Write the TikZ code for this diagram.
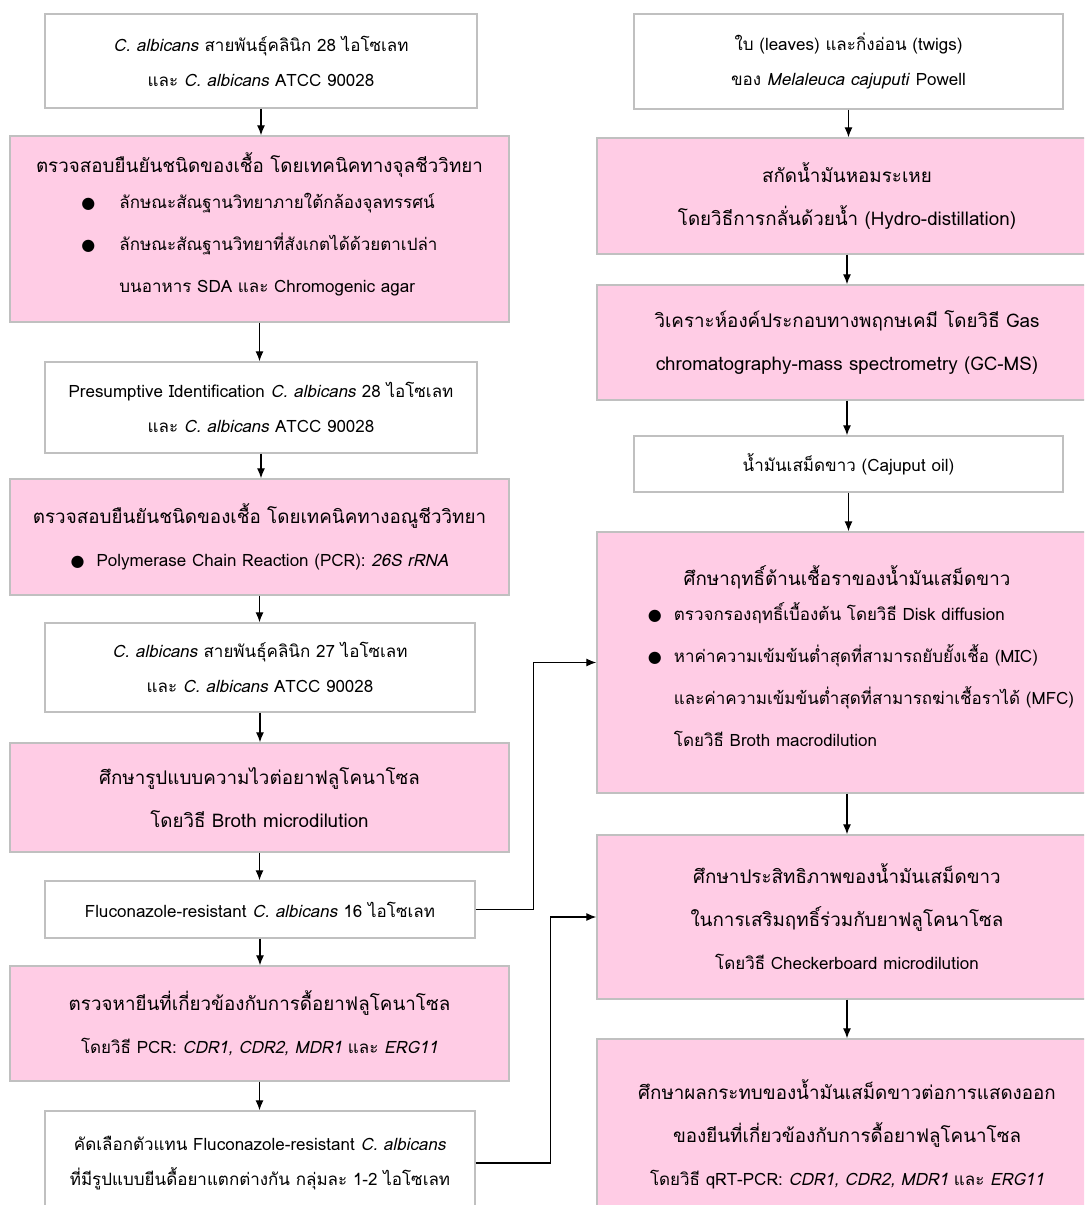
\documentclass[tikz,border=0pt]{standalone}
\usepackage{fontspec}
\setmainfont[Script=Thai,ItalicFont={Loma Oblique}]{Loma}
\newfontfamily\symfont{DejaVu Sans}
\usetikzlibrary{arrows.meta}

\definecolor{boxpink}{RGB}{255,204,229}
\definecolor{boxline}{RGB}{192,192,192}
\newcommand{\blt}{{\symfont\footnotesize ●}}
\newcommand{\ca}{\textit{C. albicans}}
\newcommand{\sm}{\fontsize{8.5}{21}\selectfont}

\tikzset{
  base/.style={draw=boxline, line width=0.7pt, align=center, inner sep=0pt},
  wbox/.style={base, fill=white, font=\fontsize{8.5}{17.5}\selectfont},
  pbox/.style={base, fill=boxpink, font=\fontsize{9.4}{21.5}\selectfont},
  arr/.style={-{Latex[length=5pt,width=4pt]}, line width=0.6pt}
}

\begin{document}
\begin{tikzpicture}[x=0.5pt,y=-0.5pt]
    \clip (0,0) rectangle (1084,1205);
    % left column
    \node[wbox, minimum width=216pt, minimum height=47pt] (cal) at (261,61)
        {\ca{} สายพันธุ์คลินิก 28 ไอโซเลท\\ และ \ca{} ATCC 90028};
    \node[pbox, minimum width=249.5pt, minimum height=93pt] (micro) at (259.5,229)
        {ตรวจสอบยืนยันชนิดของเชื้อ โดยเทคนิคทางจุลชีววิทยา\\
         {\sm\begin{tabular}{@{}l@{\hspace{12pt}}l@{}}
           \blt & ลักษณะสัณฐานวิทยาภายใต้กล้องจุลทรรศน์\\
           \blt & ลักษณะสัณฐานวิทยาที่สังเกตได้ด้วยตาเปล่า\\
                & บนอาหาร SDA และ Chromogenic agar
         \end{tabular}}};
    \node[wbox, minimum width=216pt, minimum height=45.5pt] (presum) at (261,407.5)
        {Presumptive Identification \ca{} 28 ไอโซเลท\\ และ \ca{} ATCC 90028};
    \node[pbox, minimum width=249.5pt, minimum height=58pt] (molec) at (259.5,537)
        {ตรวจสอบยืนยันชนิดของเชื้อ โดยเทคนิคทางอณูชีววิทยา\\
         {\sm\blt\hspace{6pt}Polymerase Chain Reaction (PCR): \textit{26S rRNA}}};
    \node[wbox, minimum width=215pt, minimum height=44.5pt] (clin) at (260,667.5)
        {\ca{} สายพันธุ์คลินิก 27 ไอโซเลท\\ และ \ca{} ATCC 90028};
    \node[pbox, minimum width=249.5pt, minimum height=54.5pt] (suscep) at (259.5,797.5)
        {ศึกษารูปแบบความไวต่อยาฟลูโคนาโซล\\ โดยวิธี Broth microdilution};
    \node[wbox, minimum width=215pt, minimum height=28.5pt] (res) at (260,909.5)
        {Fluconazole-resistant \ca{} 16 ไอโซเลท};
    \node[pbox, minimum width=249.5pt, minimum height=57.5pt] (gene) at (259.5,1023.5)
        {ตรวจหายีนที่เกี่ยวข้องกับการดื้อยาฟลูโคนาโซล\\
         {\sm โดยวิธี PCR: \textit{CDR1, CDR2, MDR1} และ \textit{ERG11}}};
    \node[wbox, minimum width=215pt, minimum height=52pt] (sel) at (260,1163)
        {คัดเลือกตัวแทน Fluconazole-resistant \ca\\ ที่มีรูปแบบยีนดื้อยาแตกต่างกัน กลุ่มละ 1-2 ไอโซเลท};
    % right column
    \node[wbox, minimum width=214.5pt, minimum height=47.5pt] (plant) at (848.5,61.5)
        {ใบ (leaves) และกิ่งอ่อน (twigs)\\ ของ \textit{Melaleuca cajuputi} Powell};
    \node[pbox, minimum width=250pt, minimum height=58pt] (extr) at (847,196)
        {สกัดน้ำมันหอมระเหย\\ โดยวิธีการกลั่นด้วยน้ำ (Hydro-distillation)};
    \node[pbox, minimum width=250pt, minimum height=57.5pt] (gcms) at (847,342.5)
        {วิเคราะห์องค์ประกอบทางพฤกษเคมี โดยวิธี Gas\\ chromatography-mass spectrometry (GC-MS)};
    \node[wbox, minimum width=214.5pt, minimum height=28pt] (oil) at (848.5,464)
        {น้ำมันเสม็ดขาว (Cajuput oil)};
    \node[pbox, minimum width=250pt, minimum height=130.5pt] (anti) at (847,662.5)
        {ศึกษาฤทธิ์ต้านเชื้อราของน้ำมันเสม็ดขาว\\
         {\sm\hspace{14pt}\begin{tabular}{@{}l@{\hspace{6pt}}l@{}}
           \blt & ตรวจกรองฤทธิ์เบื้องต้น โดยวิธี Disk diffusion\\
           \blt & หาค่าความเข้มข้นต่ำสุดที่สามารถยับยั้งเชื้อ (MIC)\\
                & และค่าความเข้มข้นต่ำสุดที่สามารถฆ่าเชื้อราได้ (MFC)\\
                & โดยวิธี Broth macrodilution
         \end{tabular}}};
    \node[pbox, minimum width=250pt, minimum height=82pt] (syn) at (847,917)
        {ศึกษาประสิทธิภาพของน้ำมันเสม็ดขาว\\ ในการเสริมฤทธิ์ร่วมกับยาฟลูโคนาโซล\\
         {\sm โดยวิธี Checkerboard microdilution}};
    \node[pbox, minimum width=250pt, minimum height=95.5pt] (expr) at (847,1134.5)
        {ศึกษาผลกระทบของน้ำมันเสม็ดขาวต่อการแสดงออก\\ ของยีนที่เกี่ยวข้องกับการดื้อยาฟลูโคนาโซล\\
         {\sm โดยวิธี qRT-PCR: \textit{CDR1, CDR2, MDR1} และ \textit{ERG11}}};
    % arrows down the columns
    \foreach \a/\b in {cal/micro, micro/presum, presum/molec, molec/clin, clin/suscep,
                       suscep/res, res/gene, gene/sel,
                       plant/extr, extr/gcms, gcms/oil, oil/anti, anti/syn, syn/expr}
        \draw[arr] (\a.south) -- (\a.south |- \b.north);
    % links across
    \draw[arr] (res.east) -- ++(58,0) |- (anti.west);
    \draw[arr] (sel.east) -- ++(75,0) |- (syn.west);
\end{tikzpicture}
\end{document}
